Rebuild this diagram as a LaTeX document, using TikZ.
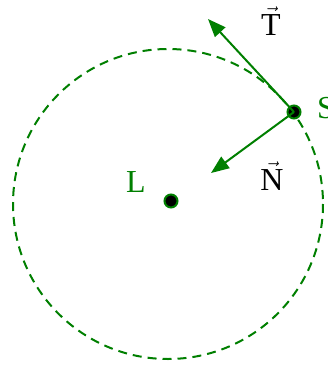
\documentclass[tikz,border=0pt]{standalone}
\usepackage{amsmath}
\usepackage{fontspec}
\setmainfont{Liberation Serif}
\usetikzlibrary{arrows.meta}
\definecolor{leaf}{HTML}{007F00}
\definecolor{ink}{HTML}{000000}

\tikzset{
  dot/.style={circle,fill=ink,draw=leaf,line width=2pt,
    inner sep=0pt,minimum size=13pt},
  vec/.style={leaf,line width=2pt,
    -{Triangle[length=18pt,width=14pt]}},
  lbl/.style={anchor=base,inner sep=0pt}
}

\begin{document}
\begin{tikzpicture}[x=1pt,y=-1pt,font=\fontsize{32}{38}\selectfont,text=ink]
  \useasboundingbox (0,0) rectangle (328,367);

  % orbit
  \draw[leaf,line width=2pt,dash pattern=on 9pt off 6pt]
    (168,204) circle (155);

  % points
  \node[dot] (L) at (171,201) {};
  \node[dot] (S) at (294,112) {};
  \node[lbl,text=leaf] (Ltxt) at (136,192) {L};
  \node[lbl,text=leaf] (Stxt) at (326,118) {S};

  % tangent and normal
  \coordinate (Ttip) at (208,19);
  \coordinate (Ntip) at (211,173);
  \draw[vec] (S.center) -- (Ttip);
  \draw[vec] (S.center) -- (Ntip);
  \node[lbl] (Ttxt) at (271,35) {$\vec{\textrm{T}}$};
  \node[lbl] (Ntxt) at (272,190) {$\vec{\textrm{N}}$};
\end{tikzpicture}
\end{document}
